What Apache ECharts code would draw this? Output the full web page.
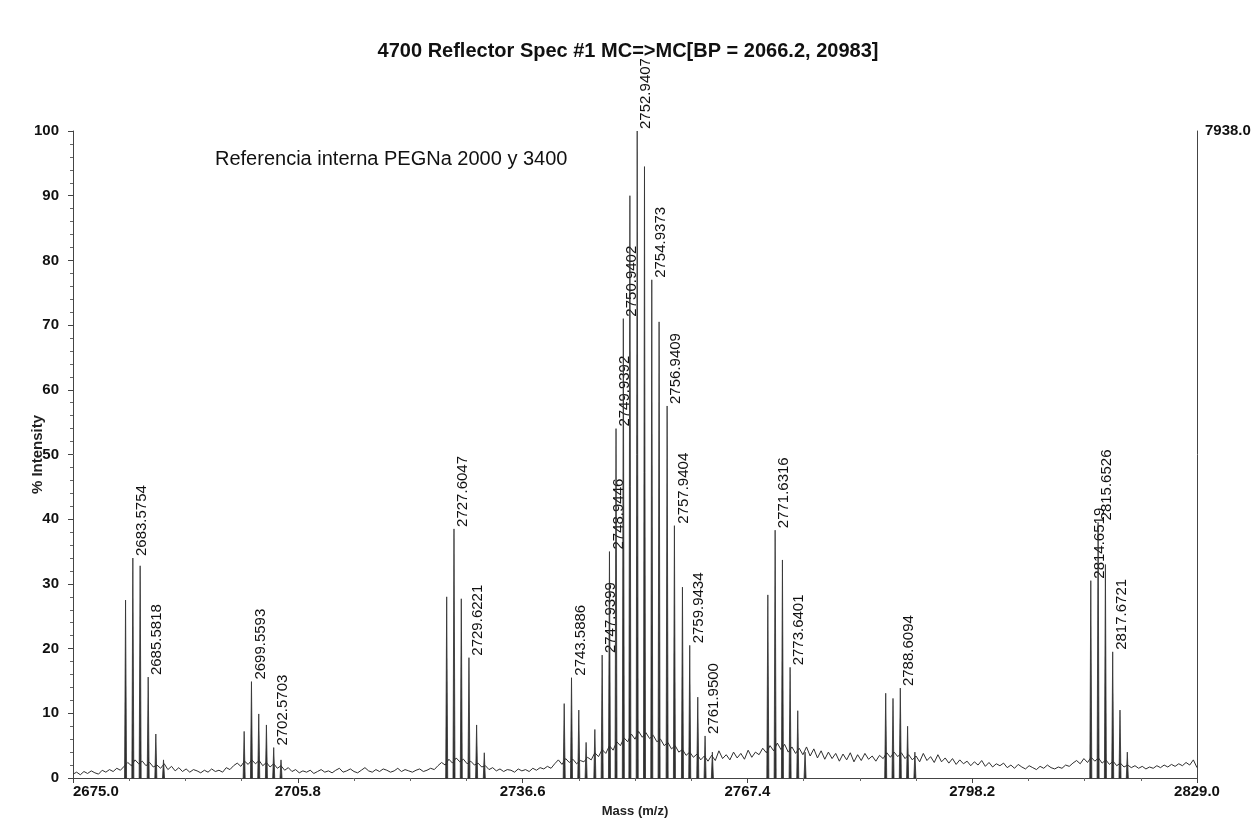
<!DOCTYPE html>
<html><head><meta charset="utf-8">
<script src="https://cdn.jsdelivr.net/npm/echarts@6/dist/echarts.min.js"></script>
<style>html,body{margin:0;padding:0;background:#fff}#c{width:1256px;height:825px}</style>
</head><body><div id="c"></div>
<script>
const titleText = '4700 Reflector Spec #1 MC=>MC[BP = 2066.2, 20983]';
const noteText = 'Referencia interna PEGNa 2000 y 3400';
const xAxisName = 'Mass (m/z)';
const yAxisName = '% Intensity';
const xMin = 2675.0, xMax = 2829.0, xStep = 30.8;
const yMin = 0, yMax = 100, yStep = 10;
const rightAxisMax = 7938.0;

// baseline noise, read every 0.5 m/z from 2675.0
const noiseStart = 2675.0, noiseStep = 0.5;
const noiseValues = [
 0.6,0.9,0.5,1.0,0.7,1.1,0.8,0.6,1.2,0.9,1.3,1.0,1.5,1.2,1.8,2.4,1.9,2.8,2.2,2.6,
 1.9,2.4,1.7,2.0,1.5,2.2,1.3,1.8,1.1,1.6,
 1.0,1.4,0.9,1.3,1.1,0.8,1.2,0.9,1.4,1.0,
 1.2,0.9,1.6,1.3,1.9,2.3,1.8,2.6,2.1,2.8,
 2.2,2.7,1.9,2.4,1.7,2.2,1.5,1.9,1.2,1.6,
 1.0,1.3,0.8,1.1,0.9,1.2,0.7,1.0,1.3,0.9,
 1.1,0.8,1.2,1.5,0.9,1.1,1.4,1.0,0.8,1.2,
 1.6,1.1,0.9,1.3,1.0,1.4,1.2,0.9,1.1,1.5,
 1.0,1.3,1.1,0.9,1.2,1.4,1.0,1.2,1.5,1.3,
 1.9,2.4,2.0,2.9,2.3,3.1,2.5,2.9,2.2,2.6,
 2.0,2.3,1.7,1.9,1.3,1.6,1.1,1.4,1.0,1.3,
 1.2,0.9,1.4,1.1,1.3,1.0,1.5,1.2,1.6,1.4,
 1.8,1.5,2.2,2.8,2.1,3.0,2.4,2.9,2.2,2.7,
 2.5,3.2,2.8,3.9,3.3,4.4,3.8,5.0,4.3,5.6,
 5.0,6.2,5.6,6.8,6.0,7.2,6.3,7.0,6.1,6.6,
 5.6,6.0,5.0,5.5,4.5,5.0,4.0,4.4,3.5,4.0,
 3.2,3.7,2.8,3.4,2.6,3.5,2.7,4.2,3.0,3.6,
 2.8,4.0,3.1,3.8,2.9,4.3,3.2,4.0,3.6,4.6,
 3.9,5.0,4.2,5.4,4.4,5.2,4.0,4.8,3.8,4.6,
 3.6,4.8,3.4,4.5,3.1,4.2,2.9,4.0,3.0,3.8,
 2.6,3.7,2.8,3.9,2.5,3.6,2.7,3.8,2.9,3.4,
 2.6,3.5,3.0,3.9,3.2,4.0,3.3,3.9,3.0,3.6,
 2.8,3.4,2.5,3.8,2.7,3.3,2.4,3.6,2.5,3.1,
 2.3,3.0,2.1,2.8,2.2,2.6,1.9,2.5,2.0,2.7,
 1.8,2.4,1.7,2.2,1.9,2.3,1.6,2.0,1.5,2.1,
 1.7,1.4,1.9,1.6,1.3,1.8,1.5,2.0,1.6,1.4,
 1.7,1.5,2.0,1.8,2.3,2.7,2.2,3.0,2.4,3.2,
 2.6,3.1,2.3,2.8,2.1,2.6,1.9,2.3,1.7,2.0,
 1.6,1.9,1.5,1.8,1.4,1.7,1.5,1.9,1.6,2.0,
 1.7,2.1,1.8,2.2,1.9,2.4,2.0,2.8,1.6
];

// isotope peaks: position, % intensity, printed label
const peakMasses = [
 2682.2,2683.2,2684.2,2685.3,2686.35,2687.4,
 2698.45,2699.45,2700.45,2701.5,2702.5,2703.5,
 2726.2,2727.2,2728.2,2729.25,2730.3,2731.35,
 2742.3,2743.3,2744.3,2745.3,2746.5,
 2747.5,2748.5,2749.4,2750.4,2751.3,2752.3,2753.3,2754.3,2755.3,2756.4,2757.4,2758.5,2759.5,2760.6,2761.6,2762.6,
 2770.2,2771.2,2772.2,2773.25,2774.3,2775.3,
 2786.35,2787.35,2788.35,2789.35,2790.35,
 2814.45,2815.45,2816.45,2817.45,2818.45,2819.45
];
const peakHeights = [
 27.5,34.0,32.8,15.6,6.8,2.8,
 7.2,14.9,9.9,8.2,4.7,2.8,
 28.0,38.5,27.7,18.6,8.2,3.9,
 11.5,15.5,10.5,5.5,7.5,
 19.0,35.0,54.0,71.0,90.0,100.0,94.5,77.0,70.5,57.5,39.0,29.5,20.5,12.5,6.5,4.0,
 28.3,38.3,33.7,17.1,10.4,4.0,
 13.1,12.3,13.9,8.0,4.0,
 30.5,39.5,33.0,19.5,10.5,4.0
];
const peakLabels = [
 '','2683.5754','','2685.5818','','',
 '','2699.5593','','','2702.5703','',
 '','2727.6047','','2729.6221','','',
 '','2743.5886','','','',
 '2747.9399','2748.9446','2749.9392','2750.9402','','2752.9407','','2754.9373','','2756.9409','2757.9404','','2759.9434','','2761.9500','',
 '','2771.6316','','2773.6401','','',
 '','','2788.6094','','',
 '2814.6519','2815.6526','','2817.6721','',''
];

const noiseData = noiseValues.map((v, i) => [noiseStart + i * noiseStep, v]);
const peakData = peakMasses.map((m, i) => [m, peakHeights[i]]);

const ink = '#2e2e2e';
const font = 'Liberation Sans, Arial, sans-serif';
const chart = echarts.init(document.getElementById('c'), null, {renderer: 'canvas'});
chart.setOption({
  animation: false,
  backgroundColor: '#fff',
  title: {
    text: titleText, left: 'center', top: 36,
    textStyle: {fontFamily: font, fontSize: 20, fontWeight: 'bold', color: '#111'}
  },
  grid: {left: 73, right: 59, top: 131, bottom: 47},
  xAxis: {
    type: 'value', min: xMin, max: xMax, interval: xStep,
    name: xAxisName, nameLocation: 'middle', nameGap: 27, nameMoveOverlap: false,
    nameTextStyle: {fontFamily: font, fontSize: 13, fontWeight: 'bold', color: '#222'},
    axisLine: {lineStyle: {color: '#444', width: 1}},
    axisTick: {show: true, length: 5, lineStyle: {color: '#444'}},
    minorTick: {show: true, splitNumber: 4, length: 3, lineStyle: {color: '#666'}},
    splitLine: {show: false},
    axisLabel: {
      formatter: v => v.toFixed(1), margin: 6, alignMinLabel: 'left',
      fontFamily: font, fontSize: 15, fontWeight: 'bold', color: '#111'
    }
  },
  yAxis: [{
    type: 'value', min: yMin, max: yMax, interval: yStep,
    name: yAxisName, nameLocation: 'middle', nameGap: 28, nameRotate: 90, nameMoveOverlap: false,
    nameTextStyle: {fontFamily: font, fontSize: 15, fontWeight: 'bold', color: '#222'},
    axisLine: {show: true, lineStyle: {color: '#444', width: 1}},
    axisTick: {show: true, length: 5, lineStyle: {color: '#444'}},
    minorTick: {show: true, splitNumber: 5, length: 3, lineStyle: {color: '#666'}},
    splitLine: {show: false},
    axisLabel: {margin: 14, fontFamily: font, fontSize: 15, fontWeight: 'bold', color: '#111'}
  }, {
    type: 'value', min: 0, max: rightAxisMax, position: 'right',
    axisLine: {show: true, lineStyle: {color: '#444', width: 1}},
    axisTick: {show: false},
    splitLine: {show: false},
    axisLabel: {
      customValues: [rightAxisMax], formatter: v => v.toFixed(1), margin: 8,
      fontFamily: font, fontSize: 15, fontWeight: 'bold', color: '#111'
    }
  }],
  graphic: [{
    type: 'text', left: 215, top: 149,
    style: {text: noteText, fontFamily: font, fontSize: 20, fill: '#111'}
  }],
  series: [{
    type: 'line', data: noiseData, symbol: 'none', xAxisIndex: 0, yAxisIndex: 0,
    lineStyle: {color: ink, width: 1}, silent: true, z: 2
  }, {
    type: 'custom', data: peakData, xAxisIndex: 0, yAxisIndex: 0, z: 3, silent: true,
    renderItem: function (params, api) {
      const m = api.value(0), h = api.value(1);
      const top = api.coord([m, h]);
      const base = api.coord([m, 0]);
      const children = [{
        type: 'polygon',
        shape: {points: [[top[0] - 1.0, base[1]], [top[0], top[1]], [top[0] + 1.0, base[1]]]},
        style: {fill: ink, stroke: ink, lineWidth: 0.8}
      }];
      const lab = peakLabels[params.dataIndex];
      if (lab) {
        children.push({
          type: 'text', x: top[0] + 1.5, y: top[1] - 2, rotation: Math.PI / 2,
          style: {text: lab, fontFamily: font, fontSize: 15, fill: '#111',
                  align: 'left', verticalAlign: 'top'}
        });
      }
      return {type: 'group', children: children};
    }
  }]
});
</script>
</body></html>
